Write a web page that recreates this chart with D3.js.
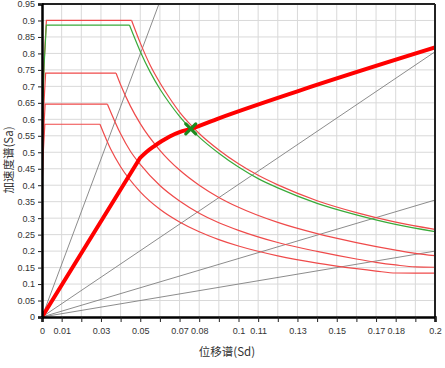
<!DOCTYPE html>
<html><head><meta charset="utf-8">
<script src="https://cdn.jsdelivr.net/npm/d3@7"></script>
<style>body{margin:0;background:#fff}svg{display:block}</style>
</head><body>
<svg id="c" width="445" height="368"></svg>
<script>
// ---- data ----
const xTickValues = d3.range(0, 21).map(i => i / 100);
const xTickLabels = ["0","0.01","0.03","0.05","0.07","0.08","0.1","0.11","0.13","0.15","0.17","0.18","0.2"];
const yTickValues = d3.range(0, 20).map(i => i * 0.05);
const yTickLabels = ["0","0.05","0.1","0.15","0.2","0.25","0.3","0.35","0.4","0.45","0.5","0.55","0.6","0.65","0.7","0.75","0.8","0.85","0.9","0.95"];

// constant-period radial lines [Sd, Sa] end points
const periodLines = [
  [[0,0],[0.0595,0.95]],
  [[0,0],[0.2,0.805]],
  [[0,0],[0.2,0.355]],
  [[0,0],[0.2,0.2]]
];

// demand spectra: rise + plateau, then descending branch
const redTopRise = [[0,0.405],[0.0001,0.529],[0.0004,0.653],[0.0011,0.776],[0.00224,0.9],[0.0456,0.9]];
const redTopFall = [[0.0456,0.9],[0.05,0.832],[0.055,0.765],[0.06,0.711],[0.065,0.664],[0.07,0.622],[0.0757,0.583],[0.08,0.557],[0.09,0.507],[0.1,0.465],[0.11,0.43],[0.12,0.401],[0.14,0.353],[0.16,0.317],[0.18,0.288],[0.2,0.266]];

const greenRise = [[0,0.399],[0.0001,0.52],[0.0004,0.642],[0.00107,0.764],[0.0022,0.886],[0.0445,0.886]];
const greenFall = [[0.0445,0.886],[0.05,0.806],[0.055,0.744],[0.06,0.692],[0.065,0.648],[0.07,0.609],[0.0757,0.571],[0.08,0.546],[0.09,0.497],[0.1,0.455],[0.11,0.42],[0.12,0.392],[0.14,0.345],[0.16,0.31],[0.18,0.281],[0.2,0.259]];

const red2Rise = [[0,0.333],[0.00007,0.435],[0.00033,0.537],[0.0009,0.638],[0.00184,0.74],[0.0377,0.74]];
const red2Fall = [[0.0377,0.74],[0.04,0.705],[0.045,0.64],[0.05,0.587],[0.06,0.506],[0.07,0.446],[0.08,0.4],[0.09,0.363],[0.1,0.333],[0.12,0.287],[0.14,0.253],[0.16,0.226],[0.18,0.203],[0.19,0.193],[0.2,0.186]];

const red3Rise = [[0,0.291],[0.00006,0.38],[0.00029,0.468],[0.00078,0.557],[0.0016,0.646],[0.0333,0.646]];
const red3Fall = [[0.0333,0.646],[0.04,0.556],[0.045,0.503],[0.05,0.463],[0.06,0.399],[0.07,0.352],[0.08,0.315],[0.09,0.286],[0.1,0.263],[0.12,0.226],[0.14,0.199],[0.16,0.176],[0.17,0.166],[0.18,0.158],[0.19,0.152],[0.2,0.151]];

const red4Rise = [[0,0.263],[0.00005,0.344],[0.00026,0.424],[0.0007,0.505],[0.00145,0.585],[0.0295,0.585]];
const red4Fall = [[0.0295,0.585],[0.035,0.509],[0.04,0.456],[0.05,0.38],[0.06,0.327],[0.07,0.2885],[0.08,0.2587],[0.09,0.235],[0.1,0.2155],[0.12,0.1857],[0.14,0.1637],[0.16,0.1467],[0.17,0.1395],[0.18,0.1335],[0.19,0.133],[0.2,0.133]];

// capacity curve: elastic branch then post-yield branch
const capacityElastic = [[0,0],[0.0498,0.482]];
const capacityPlastic = [[0.0498,0.482],[0.053,0.5],[0.057,0.518],[0.061,0.534],[0.065,0.548],[0.07,0.561],[0.0757,0.571],[0.09,0.603],[0.13,0.685],[0.2,0.818]];

// performance point
const perfPoint = [0.0757, 0.571];

// ---- drawing ----
const svg = d3.select("#c");
const L = 42, R = 435, T = 4, B = 317;
const x = d3.scaleLinear().domain([0, 0.2]).range([L, R]);
const y = d3.scaleLinear().domain([0, 0.95]).range([B, T]);

// grid
const grid = svg.append("g");
grid.selectAll("line.v").data(xTickValues.slice(1)).enter().append("line")
  .attr("x1", d => x(d)).attr("x2", d => x(d)).attr("y1", T).attr("y2", B)
  .attr("stroke", "#d9d9d9").attr("stroke-width", 1);
grid.selectAll("line.h").data(yTickValues.slice(1)).enter().append("line")
  .attr("x1", L).attr("x2", R).attr("y1", d => y(d)).attr("y2", d => y(d))
  .attr("stroke", "#d9d9d9").attr("stroke-width", 1);

svg.append("clipPath").attr("id", "clip").append("rect")
  .attr("x", L).attr("y", T).attr("width", R - L).attr("height", B - T);
const plot = svg.append("g").attr("clip-path", "url(#clip)");

const lin = d3.line().x(d => x(d[0])).y(d => y(d[1]));
const mono = d3.line().x(d => x(d[0])).y(d => y(d[1])).curve(d3.curveMonotoneX);

periodLines.forEach(p => {
  plot.append("path").attr("d", lin(p)).attr("fill", "none")
    .attr("stroke", "#7f7f7f").attr("stroke-width", 0.9);
});

const redCol = "#ef4a4a";
[[red4Rise, red4Fall], [red3Rise, red3Fall], [red2Rise, red2Fall], [redTopRise, redTopFall]].forEach(([a, b]) => {
  plot.append("path").attr("d", lin(a)).attr("fill", "none").attr("stroke", redCol).attr("stroke-width", 1.2);
  plot.append("path").attr("d", mono(b)).attr("fill", "none").attr("stroke", redCol).attr("stroke-width", 1.2);
});
plot.append("path").attr("d", lin(greenRise)).attr("fill", "none").attr("stroke", "#3aaa3a").attr("stroke-width", 1.2);
plot.append("path").attr("d", mono(greenFall)).attr("fill", "none").attr("stroke", "#3aaa3a").attr("stroke-width", 1.2);

const cap = d3.path();
plot.append("path").attr("d", lin(capacityElastic) + mono(capacityPlastic).replace(/^M[^LC]*/, "")).attr("fill", "none")
  .attr("stroke", "#ff0000").attr("stroke-width", 4).attr("stroke-linejoin", "round").attr("stroke-linecap", "round");

// X marker
const px = x(perfPoint[0]), py = y(perfPoint[1]), s = 5;
svg.append("path")
  .attr("d", `M${px - s},${py - s}L${px + s},${py + s}M${px - s},${py + s}L${px + s},${py - s}`)
  .attr("stroke", "#1e8a1e").attr("stroke-width", 3.2).attr("stroke-linecap", "round");

// frame
svg.append("line").attr("x1", L).attr("x2", R).attr("y1", T).attr("y2", T).attr("stroke", "#222").attr("stroke-width", 2);
svg.append("line").attr("x1", R).attr("x2", R).attr("y1", T).attr("y2", B).attr("stroke", "#222").attr("stroke-width", 2);

// axes
const ax = svg.append("g").attr("transform", `translate(0,${B})`)
  .call(d3.axisBottom(x).tickValues(xTickValues).tickSize(5).tickFormat(d => {
    const lab = String(Math.round(d * 100) / 100);
    return xTickLabels.includes(lab) ? lab : "";
  }));
ax.select(".domain").attr("stroke", "#000").attr("stroke-width", 2.5);
ax.selectAll(".tick line").attr("stroke", "#222");
ax.selectAll("text").attr("font-family", "Liberation Sans, Arial, sans-serif").attr("font-size", 9).attr("fill", "#333").attr("dy", "1.05em");

const ay = svg.append("g").attr("transform", `translate(${L},0)`)
  .call(d3.axisLeft(y).tickValues(yTickValues).tickSize(4).tickFormat((d, i) => yTickLabels[i]));
ay.select(".domain").attr("stroke", "#000").attr("stroke-width", 2.5);
ay.selectAll(".tick line").attr("stroke", "#222");
ay.selectAll("text").attr("font-family", "Liberation Sans, Arial, sans-serif").attr("font-size", 9).attr("fill", "#333");

// titles
svg.append("text").attr("x", 227).attr("y", 356).attr("text-anchor", "middle")
  .attr("font-family", "Noto Sans CJK SC, sans-serif").attr("font-size", 11.5).attr("fill", "#333").text("位移谱(Sd)");
svg.append("text").attr("transform", "translate(13,160) rotate(-90)").attr("text-anchor", "middle")
  .attr("font-family", "Noto Sans CJK SC, sans-serif").attr("font-size", 11.5).attr("fill", "#333").text("加速度谱(Sa)");
</script>
</body></html>
